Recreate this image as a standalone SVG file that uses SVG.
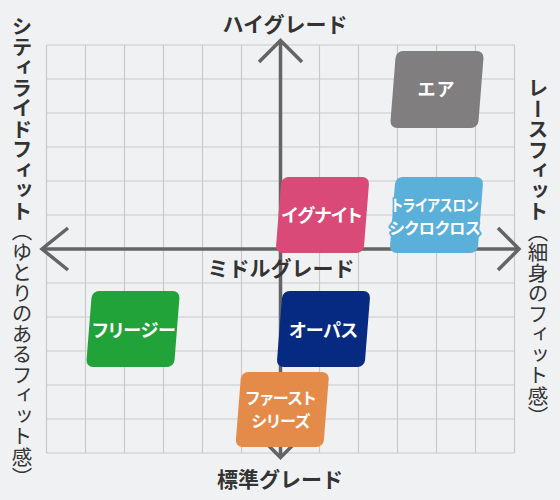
<svg xmlns="http://www.w3.org/2000/svg" width="560" height="500" viewBox="0 0 560 500">
<style>
.grid line{stroke:#c9c9c9;stroke-width:1.2}
.axis{stroke:#646464;stroke-width:3.5;fill:none;stroke-linecap:butt;stroke-linejoin:miter}
.hdr{font-family:"Noto Sans CJK JP","Noto Sans",sans-serif;font-weight:bold;font-size:21px;fill:#333;text-anchor:middle}
.side{font-family:"Noto Sans CJK JP","Noto Sans",sans-serif;font-size:20.5px;fill:#333;writing-mode:vertical-rl}
.b{font-weight:bold}
.lbl{font-family:"Noto Sans CJK JP","Noto Sans",sans-serif;font-weight:bold;fill:#fff;text-anchor:middle;font-feature-settings:"palt";paint-order:stroke;stroke-linejoin:round}
</style>
<rect width="560" height="500" fill="#f0f1f3"/>
<g class="grid">
<line x1="46.5" y1="45" x2="46.5" y2="453"/>
<line x1="85.5" y1="45" x2="85.5" y2="453"/>
<line x1="124.5" y1="45" x2="124.5" y2="453"/>
<line x1="163.5" y1="45" x2="163.5" y2="453"/>
<line x1="202.5" y1="45" x2="202.5" y2="453"/>
<line x1="241.5" y1="45" x2="241.5" y2="453"/>
<line x1="280.5" y1="45" x2="280.5" y2="453"/>
<line x1="319.5" y1="45" x2="319.5" y2="453"/>
<line x1="358.5" y1="45" x2="358.5" y2="453"/>
<line x1="397.5" y1="45" x2="397.5" y2="453"/>
<line x1="436.5" y1="45" x2="436.5" y2="453"/>
<line x1="475.5" y1="45" x2="475.5" y2="453"/>
<line x1="514.5" y1="45" x2="514.5" y2="453"/>
<line x1="46.5" y1="45" x2="514.5" y2="45"/>
<line x1="46.5" y1="79" x2="514.5" y2="79"/>
<line x1="46.5" y1="113" x2="514.5" y2="113"/>
<line x1="46.5" y1="147" x2="514.5" y2="147"/>
<line x1="46.5" y1="181" x2="514.5" y2="181"/>
<line x1="46.5" y1="215" x2="514.5" y2="215"/>
<line x1="46.5" y1="283" x2="514.5" y2="283"/>
<line x1="46.5" y1="317" x2="514.5" y2="317"/>
<line x1="46.5" y1="351" x2="514.5" y2="351"/>
<line x1="46.5" y1="385" x2="514.5" y2="385"/>
<line x1="46.5" y1="419" x2="514.5" y2="419"/>
<line x1="46.5" y1="453" x2="514.5" y2="453"/>
</g>
<g id="connectors">
<line class="axis" x1="280.5" y1="42" x2="280.5" y2="456"/>
<line class="axis" x1="43" y1="249" x2="518" y2="249"/>
<polyline class="axis" points="259,62 280.5,40.5 302,62"/>
<polyline class="axis" points="259,436 280.5,457.5 302,436"/>
<polyline class="axis" points="68,228 42,249 68,270"/>
<polyline class="axis" points="498,228 519,249 498,270"/>
</g>
<g id="labels">
<text class="hdr" x="285" y="32">ハイグレード</text>
<text class="hdr" x="281" y="275.5">ミドルグレード</text>
<text class="hdr" x="280" y="487">標準グレード</text>
<text class="side" x="22" y="16"><tspan class="b">シティライドフィット</tspan>（ゆとりのあるフィット感）</text>
<text class="side" x="538" y="78"><tspan class="b">レースフィット</tspan>（細身のフィット感）</text>
</g>
<g id="node-air">
<rect x="-44" y="-38.5" width="88" height="77" rx="7" fill="#807e7f" transform="translate(437 89.5) skewX(-4.5)"/>
<text class="lbl" x="437" y="95.5" font-size="18" style="letter-spacing:2px">エア</text>
</g>
<g id="node-ignite">
<rect x="-44" y="-38" width="88" height="76" rx="7" fill="#d94a78" transform="translate(322.5 215) skewX(-4.5)"/>
<text class="lbl" x="322" y="222" font-size="18">イグナイト</text>
</g>
<g id="node-triathlon">
<rect x="-44" y="-38" width="88" height="76" rx="7" fill="#5bb0da" transform="translate(436.5 215) skewX(-4.5)"/>
<text class="lbl" x="435" y="210.5" font-size="16" stroke="#5bb0da" stroke-width="4" textLength="87" lengthAdjust="spacingAndGlyphs">トライアスロン</text>
<text class="lbl" x="435" y="234" font-size="16" stroke="#5bb0da" stroke-width="4">シクロクロス</text>
</g>
<g id="node-freesee">
<rect x="-44" y="-38" width="88" height="76" rx="7" fill="#22a33a" transform="translate(133 329) skewX(-4.5)"/>
<text class="lbl" x="134" y="336.5" font-size="18">フリージー</text>
</g>
<g id="node-opus">
<rect x="-44" y="-38" width="88" height="76" rx="7" fill="#062a82" transform="translate(323.5 329) skewX(-4.5)"/>
<text class="lbl" x="323.5" y="336.5" font-size="18" stroke="#062a82" stroke-width="3">オーパス</text>
</g>
<g id="node-first">
<rect x="-44" y="-37.5" width="88" height="75" rx="7" fill="#e58b4a" transform="translate(282.3 409.5) skewX(-4.5)"/>
<text class="lbl" x="281" y="403.5" font-size="16">ファースト</text>
<text class="lbl" x="281" y="427" font-size="16">シリーズ</text>
</g>
</svg>
